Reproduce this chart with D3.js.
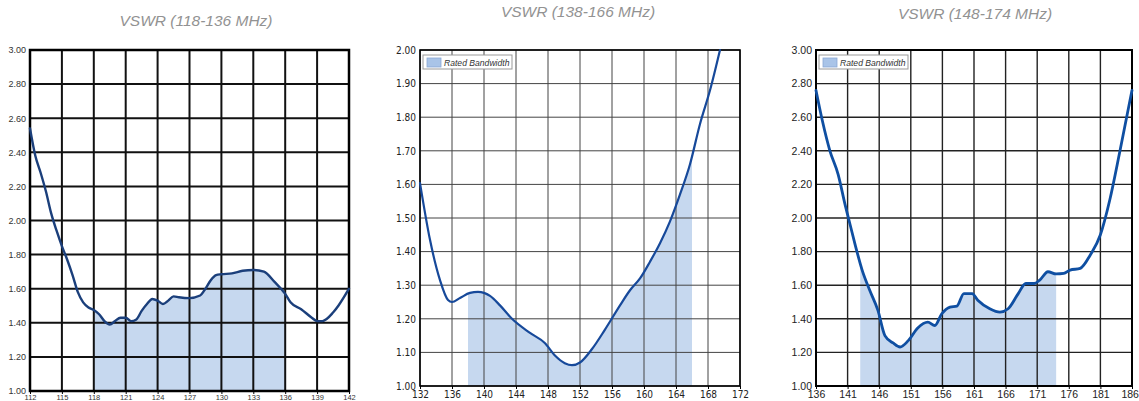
<!DOCTYPE html>
<html><head><meta charset="utf-8">
<script src="https://cdn.jsdelivr.net/npm/d3@7"></script>
<style>
html,body{margin:0;padding:0;background:#fff;}
svg{display:block;}
</style></head>
<body><svg id="c" width="1139" height="401"></svg>
<script>
// ---- Panel 1: VSWR (118-136 MHz)
const title1 = "VSWR (118-136 MHz)";
const freq1 = [112,112.5,113,113.5,114,114.5,115,115.5,116,116.5,117,117.5,118,118.5,119,119.5,120,120.5,121,121.5,122,122.5,123,123.5,124,124.5,125,125.5,126,127,128,128.5,129,129.5,130,131,132,133,134,135,136,136.5,137.5,138.5,139,139.5,140.5,141,142];
const vswr1 = [2.54,2.38,2.28,2.17,2.04,1.94,1.85,1.77,1.68,1.58,1.52,1.49,1.475,1.45,1.41,1.39,1.41,1.43,1.43,1.41,1.42,1.47,1.51,1.54,1.53,1.51,1.53,1.555,1.55,1.545,1.56,1.60,1.65,1.68,1.685,1.69,1.705,1.71,1.70,1.64,1.57,1.52,1.48,1.43,1.41,1.41,1.46,1.50,1.60];
const xTicks1 = [112,115,118,121,124,127,130,133,136,139,142];
const yTicks1 = [1.00,1.20,1.40,1.60,1.80,2.00,2.20,2.40,2.60,2.80,3.00];
const band1 = [118,136];

// ---- Panel 2: VSWR (138-166 MHz)
const title2 = "VSWR (138-166 MHz)";
const freq2 = [132,133.25,134.5,135.5,136,137,138.25,139.25,140.75,142,143.5,145.75,147.6,148.9,150.1,151,152,153.5,155.1,157,158.25,159.5,160.75,162,163.25,164.5,165.75,167,168.25,169.5];
const vswr2 = [1.604,1.435,1.315,1.256,1.25,1.262,1.277,1.28,1.268,1.24,1.20,1.158,1.128,1.09,1.068,1.062,1.07,1.11,1.167,1.24,1.285,1.32,1.37,1.425,1.49,1.57,1.66,1.78,1.88,2.00];
const xTicks2 = [132,136,140,144,148,152,156,160,164,168,172];
const yTicks2 = [1.00,1.10,1.20,1.30,1.40,1.50,1.60,1.70,1.80,1.90,2.00];
const band2 = [138,166];

// ---- Panel 3: VSWR (148-174 MHz)
const title3 = "VSWR (148-174 MHz)";
const freq3 = [136,137,138.2,139.5,140.6,141.4,142.2,143.3,144.5,145.8,146.9,148.2,149.3,150.6,152.1,153.7,154.8,155.9,157.2,158.3,159.4,160.7,161.6,163.5,165.1,166.4,168,169.2,170.5,171.4,172.7,174,175.2,176.2,177.8,179.4,181,182.5,184.1,186];
const vswr3 = [2.76,2.58,2.40,2.26,2.08,1.96,1.84,1.69,1.57,1.45,1.30,1.256,1.232,1.27,1.345,1.38,1.36,1.43,1.47,1.476,1.55,1.55,1.51,1.46,1.44,1.46,1.55,1.61,1.61,1.63,1.68,1.667,1.67,1.69,1.70,1.78,1.90,2.11,2.40,2.76];
const xTicks3 = [136,141,146,151,156,161,166,171,176,181,186];
const yTicks3 = [1.00,1.20,1.40,1.60,1.80,2.00,2.20,2.40,2.60,2.80,3.00];
const band3 = [143,174];

const legendLabel = "Rated Bandwidth";

const svg = d3.select("#c");
const W = 1139;

const panels = [
  {title:title1, freq:freq1, vswr:vswr1, xTicks:xTicks1, yTicks:yTicks1, band:band1,
   x0:30, x1:349, yTop:50, yBot:391, titleX:196, titleY:26,
   gridW:2, gridC:"#111", frameW:2.5, lineC:"#1b3f7b", lineW:2.4,
   font:"'Liberation Sans', Arial, sans-serif", tickSize:9, xTickSize:7.5, tickC:"#333",
   xLabY:400, legend:false, fmt:d3.format(".2f")},
  {title:title2, freq:freq2, vswr:vswr2, xTicks:xTicks2, yTicks:yTicks2, band:band2,
   x0:420, x1:740, yTop:50, yBot:386, titleX:578, titleY:17,
   gridW:1, gridC:"#444", frameW:1.6, lineC:"#17499a", lineW:2.2,
   font:"'Liberation Sans Narrow', 'DejaVu Sans Condensed', sans-serif", tickSize:10, xTickSize:10, tickC:"#222",
   xLabY:398, legend:true, fmt:d3.format(".2f")},
  {title:title3, freq:freq3, vswr:vswr3, xTicks:xTicks3, yTicks:yTicks3, band:band3,
   x0:816, x1:1132, yTop:50, yBot:386, titleX:975, titleY:19,
   gridW:1.4, gridC:"#222", frameW:2, lineC:"#0f4fa2", lineW:2.8,
   font:"'Liberation Sans', Arial, sans-serif", tickSize:10.5, xTickSize:10.5, tickC:"#222",
   xLabY:398, legend:true, fmt:d3.format(".2f")}
];

panels.forEach(p => {
  const x = d3.scaleLinear().domain(d3.extent(p.xTicks)).range([p.x0, p.x1]);
  const y = d3.scaleLinear().domain(d3.extent(p.yTicks)).range([p.yBot, p.yTop]);
  const g = svg.append("g");
  const data = p.freq.map((f,i)=>({f, v:p.vswr[i]}));

  // title
  g.append("text").attr("x", p.titleX).attr("y", p.titleY)
    .attr("text-anchor","middle")
    .style("font-family","'Liberation Sans', Arial, sans-serif")
    .style("font-style","italic").style("font-size","15.5px").style("fill","#929292")
    .text(p.title);

  // fill under curve in band
  const clipId = "clip" + p.x0;
  g.append("clipPath").attr("id", clipId).append("rect")
    .attr("x", x(p.band[0])).attr("y", p.yTop)
    .attr("width", x(p.band[1]) - x(p.band[0])).attr("height", p.yBot - p.yTop);
  const area = d3.area().x(d=>x(d.f)).y0(y(p.yTicks[0])).y1(d=>y(Math.min(d.v, p.yTicks[p.yTicks.length-1]))).curve(d3.curveMonotoneX);
  g.append("path").datum(data).attr("d", area).attr("clip-path", `url(#${clipId})`)
    .attr("fill", "#c6d8ef");

  // grid
  const grid = g.append("g");
  grid.selectAll("line.v").data(p.xTicks).join("line")
    .attr("x1", d=>x(d)).attr("x2", d=>x(d)).attr("y1", p.yTop).attr("y2", p.yBot)
    .attr("stroke", p.gridC).attr("stroke-width", p.gridW);
  grid.selectAll("line.h").data(p.yTicks).join("line").attr("class","h")
    .attr("x1", p.x0).attr("x2", p.x1).attr("y1", d=>y(d)).attr("y2", d=>y(d))
    .attr("stroke", p.gridC).attr("stroke-width", p.gridW);

  // frame
  g.append("rect").attr("x", p.x0).attr("y", p.yTop)
    .attr("width", p.x1 - p.x0).attr("height", p.yBot - p.yTop)
    .attr("fill","none").attr("stroke","#000").attr("stroke-width", p.frameW);

  // axes labels via d3 axes
  const yAxis = d3.axisLeft(y).tickValues(p.yTicks).tickFormat(p.fmt).tickSize(0).tickPadding(4);
  const ya = g.append("g").attr("transform", `translate(${p.x0},0)`).call(yAxis);
  ya.select(".domain").remove();
  ya.selectAll("text").style("font-family", p.font).style("font-size", p.tickSize+"px").style("fill", p.tickC);

  const xAxis = d3.axisBottom(x).tickValues(p.xTicks).tickFormat(d3.format("d")).tickSize(3).tickPadding(1);
  const xa = g.append("g").attr("transform", `translate(0,${p.yBot})`).call(xAxis);
  xa.select(".domain").remove();
  xa.selectAll("line").attr("stroke","#000");
  xa.selectAll("text").attr("y", p.xLabY - p.yBot).attr("dy", null)
    .style("font-family", p.font).style("font-size", p.xTickSize+"px").style("fill", p.tickC);
  // keep edge label inside the page
  xa.selectAll("text").each(function(d){
    const bb = this.getBBox();
    const right = x(d) + bb.width/2;
    if (right > W - 0.5) d3.select(this).attr("dx", (W - 0.5 - right) + "px");
  });

  // curve
  const lineGen = d3.line().x(d=>x(d.f)).y(d=>y(d.v)).curve(d3.curveMonotoneX);
  g.append("path").datum(data).attr("d", lineGen)
    .attr("fill","none").attr("stroke", p.lineC).attr("stroke-width", p.lineW)
    .attr("stroke-linejoin","round").attr("stroke-linecap","round");

  // legend
  if (p.legend) {
    const lx = p.x0 + 3, ly = p.yTop + 5;
    const lg = g.append("g");
    lg.append("rect").attr("x", lx).attr("y", ly).attr("width", 89).attr("height", 14)
      .attr("fill","#fff").attr("stroke","#999").attr("stroke-width",1);
    lg.append("rect").attr("x", lx+4).attr("y", ly+3).attr("width", 14).attr("height", 9)
      .attr("fill","#a9c4e8").attr("stroke","#8aa9d4").attr("stroke-width",0.8);
    lg.append("text").attr("x", lx+21).attr("y", ly+10.5)
      .style("font-family","'Liberation Sans', Arial, sans-serif")
      .style("font-style","italic").style("font-size","8.6px").style("fill","#333")
      .text(legendLabel);
  }
});
</script>
</body></html>
